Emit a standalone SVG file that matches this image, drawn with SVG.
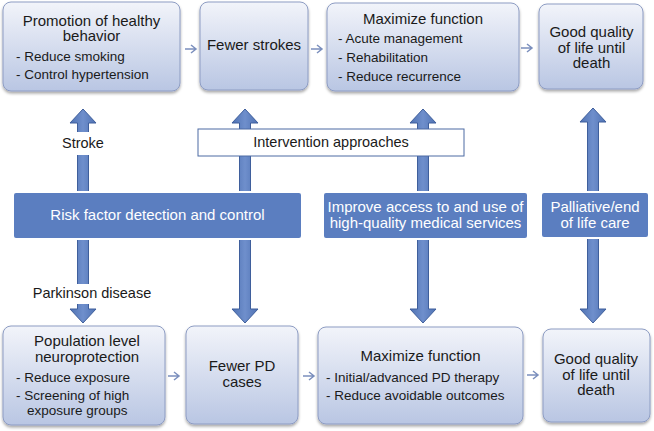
<svg xmlns="http://www.w3.org/2000/svg" width="654" height="431" viewBox="0 0 654 431">
<defs>
<linearGradient id="boxGrad" x1="0" y1="0" x2="0" y2="1">
<stop offset="0" stop-color="#f2f4fa"/>
<stop offset="1" stop-color="#b9c6e3"/>
</linearGradient>
<linearGradient id="arrGrad" x1="0" y1="0" x2="1" y2="0">
<stop offset="0" stop-color="#4f72b3"/>
<stop offset="0.5" stop-color="#6f8fcc"/>
<stop offset="1" stop-color="#4f72b3"/>
</linearGradient>
<filter id="shadow" x="-10%" y="-10%" width="120%" height="130%">
<feGaussianBlur in="SourceAlpha" stdDeviation="1.5"/>
<feOffset dx="0" dy="2" result="b"/>
<feComponentTransfer><feFuncA type="linear" slope="0.35"/></feComponentTransfer>
<feMerge><feMergeNode/><feMergeNode in="SourceGraphic"/></feMerge>
</filter>
</defs>
<style>
.box{fill:url(#boxGrad);stroke:#8d9cc3;stroke-width:1;filter:url(#shadow)}
.bar{fill:#5b7ec0;stroke:#ffffff;stroke-width:2}
.varr{fill:url(#arrGrad);stroke:#3f5f9c;stroke-width:1}
.small{fill:none;stroke:#7b8fbd;stroke-width:1.5}
text{font-family:"Liberation Sans",Arial,sans-serif;fill:#1a1a1a}
.t{font-size:15px;text-anchor:middle}
.b{font-size:13.5px}
.w{font-size:15px;text-anchor:middle;fill:#ffffff}
.lbl{font-size:14.5px;text-anchor:middle}
</style>

<g id="connectors">
<path class="varr" d="M83,109 L96,123 L88.5,123 L88.5,309 L96,309 L83,323 L70,309 L77.5,309 L77.5,123 L70,123 Z"/>
<path class="varr" d="M245,109 L258,123 L250.5,123 L250.5,309 L258,309 L245,323 L232,309 L239.5,309 L239.5,123 L232,123 Z"/>
<path class="varr" d="M423,109 L436,123 L428.5,123 L428.5,309 L436,309 L423,323 L410,309 L417.5,309 L417.5,123 L410,123 Z"/>
<path class="varr" d="M593,108 L606,122 L598.5,122 L598.5,309 L606,309 L593,323 L580,309 L587.5,309 L587.5,122 L580,122 Z"/>
<path class="small" d="M185,49 H196 M191,45 L196,49 L191,53"/>
<path class="small" d="M311,49 H322 M317,45 L322,49 L317,53"/>
<path class="small" d="M521,48 H532 M527,44 L532,48 L527,52"/>
<path class="small" d="M168,376 H179 M174,372 L179,376 L174,380"/>
<path class="small" d="M303,376 H314 M309,372 L314,376 L309,380"/>
<path class="small" d="M527,375 H538 M533,371 L538,375 L533,379"/>
</g>

<g id="label-stroke">
<rect x="60" y="132" width="46" height="23" fill="#ffffff"/>
<text class="lbl" x="83" y="148">Stroke</text>
</g>
<g id="label-pd">
<rect x="30" y="284" width="126" height="20" fill="#ffffff"/>
<text class="lbl" x="92" y="298">Parkinson disease</text>
</g>

<g id="intervention">
<rect x="198" y="129" width="266" height="27" fill="#ffffff" stroke="#4d6ba3" stroke-width="1"/>
<text class="lbl" x="331" y="147">Intervention approaches</text>
</g>

<g id="bar-risk">
<rect class="bar" x="13" y="192" width="289" height="47" rx="3"/>
<text class="w" x="157.5" y="220">Risk factor detection and control</text>
</g>
<g id="bar-access">
<rect class="bar" x="323" y="192" width="205" height="47" rx="3"/>
<text class="w" x="425.5" y="211.5">Improve access to and use of</text>
<text class="w" x="425.5" y="227.5">high-quality medical services</text>
</g>
<g id="bar-palliative">
<rect class="bar" x="541" y="192" width="108" height="46" rx="3"/>
<text class="w" x="595" y="211.5">Palliative/end</text>
<text class="w" x="595" y="227.5">of life care</text>
</g>

<g id="stroke-promotion">
<rect class="box" x="3" y="2" width="177" height="89" rx="8"/>
<text class="t" x="91.5" y="25.5">Promotion of healthy</text>
<text class="t" x="91.5" y="41">behavior</text>
<text class="b" x="16" y="61">- Reduce smoking</text>
<text class="b" x="16" y="79">- Control hypertension</text>
</g>
<g id="stroke-fewer">
<rect class="box" x="200" y="2" width="108" height="88" rx="8"/>
<text class="t" x="254" y="50">Fewer strokes</text>
</g>
<g id="stroke-maximize">
<rect class="box" x="327" y="3" width="192" height="88" rx="8"/>
<text class="t" x="423" y="24">Maximize function</text>
<text class="b" x="338" y="43">- Acute management</text>
<text class="b" x="338" y="62">- Rehabilitation</text>
<text class="b" x="338" y="81">- Reduce recurrence</text>
</g>
<g id="stroke-quality">
<rect class="box" x="539" y="4" width="104" height="85" rx="8"/>
<text class="t" x="591.5" y="37">Good quality</text>
<text class="t" x="591.5" y="52.5">of life until</text>
<text class="t" x="591.5" y="68">death</text>
</g>

<g id="pd-neuroprotection">
<rect class="box" x="3" y="326" width="162" height="99" rx="8"/>
<text class="t" x="87" y="346">Population level</text>
<text class="t" x="87" y="361.5">neuroprotection</text>
<text class="b" x="16" y="382">- Reduce exposure</text>
<text class="b" x="16" y="400">- Screening of high</text>
<text class="b" x="27" y="414.5">exposure groups</text>
</g>
<g id="pd-fewer">
<rect class="box" x="186" y="326" width="112" height="98" rx="8"/>
<text class="t" x="242" y="371">Fewer PD</text>
<text class="t" x="242" y="386.5">cases</text>
</g>
<g id="pd-maximize">
<rect class="box" x="318" y="327" width="205" height="97" rx="8"/>
<text class="t" x="420.5" y="361">Maximize function</text>
<text class="b" x="326" y="382">- Initial/advanced PD therapy</text>
<text class="b" x="326" y="400">- Reduce avoidable outcomes</text>
</g>
<g id="pd-quality">
<rect class="box" x="543" y="329" width="107" height="93" rx="8"/>
<text class="t" x="596" y="364">Good quality</text>
<text class="t" x="596" y="379.5">of life until</text>
<text class="t" x="596" y="395">death</text>
</g>
</svg>
